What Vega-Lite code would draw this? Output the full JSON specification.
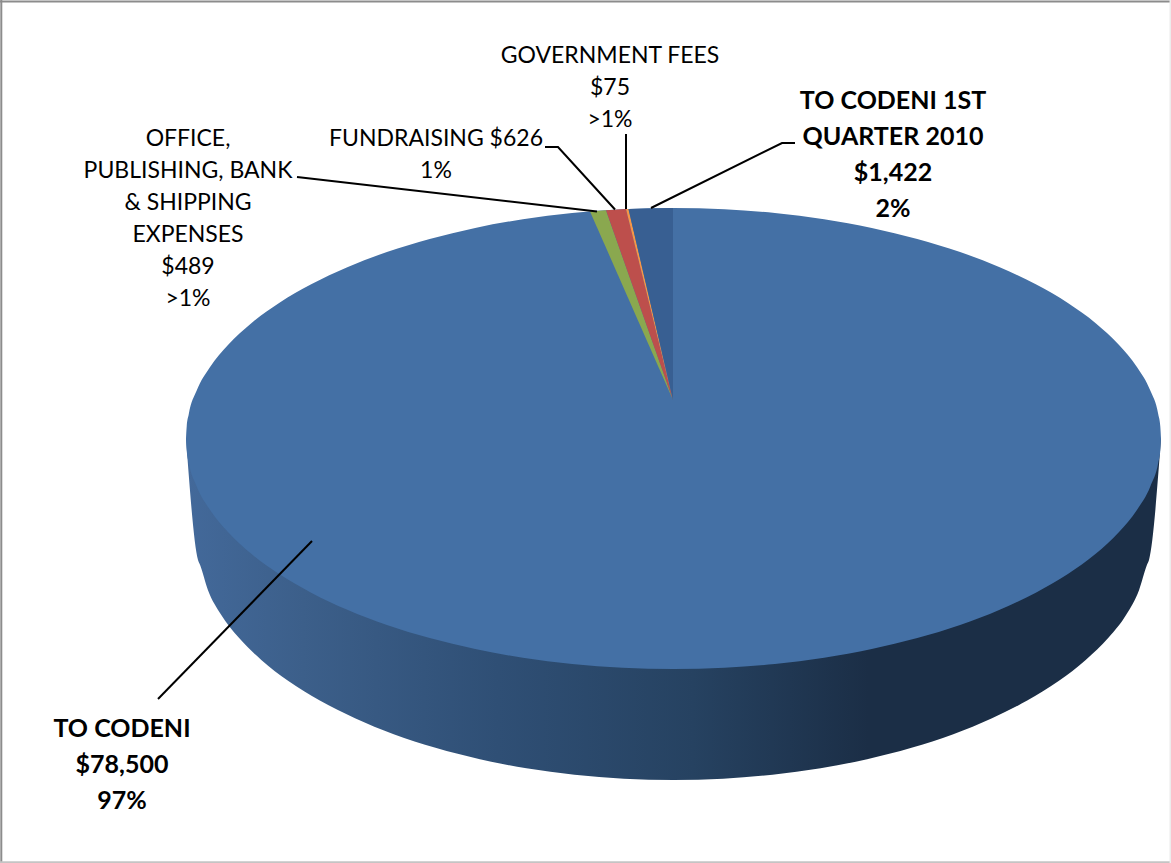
{
"$schema":"https://vega.github.io/schema/vega-lite/v6.json",
"autosize":{"type":"none"},
"width":1171,"height":863,"padding":0,
"background":"white",
"config":{"view":{"stroke":null}},
"resolve":{"scale":{"color":"independent"}},
"datasets":{
"frame":[
{"edge":"top","x":0,"y":1.6},{"edge":"top","x":1171,"y":1.6},
{"edge":"left","x":1.3,"y":0},{"edge":"left","x":1.3,"y":863},
{"edge":"bottom","x":0,"y":862.3},{"edge":"bottom","x":1171,"y":862.3},
{"edge":"right","x":1170.5,"y":0},{"edge":"right","x":1170.5,"y":863}
],
"top":[
{"x":186,"y":438.5,"y2":438.5},{"x":186.7,"y":426.4,"y2":450.6},{"x":188.7,"y":414.4,"y2":462.6},{"x":196.7,"y":390.6,"y2":486.4},{"x":209.9,"y":367.3,"y2":509.7},{"x":228.2,"y":344.8,"y2":532.2},{"x":251.3,"y":323.2,"y2":553.8},{"x":279.1,"y":303,"y2":574},{"x":311.2,"y":284.3,"y2":592.7},{"x":347.3,"y":267.2,"y2":609.8},{"x":386.9,"y":252,"y2":625},{"x":429.7,"y":238.9,"y2":638.1},{"x":475.2,"y":227.9,"y2":649.1},{"x":522.9,"y":219.3,"y2":657.7},{"x":572.1,"y":213,"y2":664},{"x":622.6,"y":209.3,"y2":667.7},{"x":673.5,"y":208,"y2":669},
{"x":724.4,"y":209.3,"y2":667.7},{"x":774.9,"y":213,"y2":664},{"x":824.1,"y":219.3,"y2":657.7},{"x":871.8,"y":227.9,"y2":649.1},{"x":917.3,"y":238.9,"y2":638.1},{"x":960.1,"y":252,"y2":625},{"x":999.7,"y":267.2,"y2":609.8},{"x":1035.8,"y":284.3,"y2":592.7},{"x":1067.9,"y":303,"y2":574},{"x":1095.7,"y":323.2,"y2":553.8},{"x":1118.8,"y":344.8,"y2":532.2},{"x":1137.1,"y":367.3,"y2":509.7},{"x":1150.3,"y":390.6,"y2":486.4},{"x":1158.3,"y":414.4,"y2":462.6},{"x":1160.3,"y":426.4,"y2":450.6},{"x":1161,"y":438.5,"y2":438.5}
],
"side":[
{"x":186,"y":438.5,"y2":438.5},{"x":198,"y":438.5,"y2":560},{"x":200.1,"y":438.5,"y2":565},{"x":207.9,"y":438.5,"y2":589.9},{"x":220.8,"y":438.5,"y2":614.2},{"x":238.7,"y":438.5,"y2":637.6},{"x":261.3,"y":438.5,"y2":660},{"x":288.4,"y":438.5,"y2":681.1},{"x":319.8,"y":438.5,"y2":700.6},{"x":355,"y":438.5,"y2":718.3},{"x":393.7,"y":438.5,"y2":734.2},{"x":435.5,"y":438.5,"y2":747.8},{"x":479.9,"y":438.5,"y2":759.2},{"x":526.4,"y":438.5,"y2":768.3},{"x":574.5,"y":438.5,"y2":774.7},{"x":623.8,"y":438.5,"y2":778.7},{"x":673.5,"y":438.5,"y2":780},
{"x":723.2,"y":438.5,"y2":778.7},{"x":772.5,"y":438.5,"y2":774.7},{"x":820.6,"y":438.5,"y2":768.3},{"x":867.1,"y":438.5,"y2":759.2},{"x":911.5,"y":438.5,"y2":747.8},{"x":953.3,"y":438.5,"y2":734.2},{"x":992,"y":438.5,"y2":718.3},{"x":1027.2,"y":438.5,"y2":700.6},{"x":1058.6,"y":438.5,"y2":681.1},{"x":1085.7,"y":438.5,"y2":660},{"x":1108.6,"y":438.5,"y2":637.6},{"x":1126.5,"y":438.5,"y2":614.2},{"x":1139.1,"y":438.5,"y2":589.9},{"x":1146.9,"y":438.5,"y2":565},{"x":1149,"y":438.5,"y2":560},{"x":1161,"y":438.5,"y2":438.5}
],
"slices":[
{"slice":"OFFICE, PUBLISHING, BANK & SHIPPING EXPENSES","x":590,"y":211.4,"y2":211.4},{"slice":"OFFICE, PUBLISHING, BANK & SHIPPING EXPENSES","x":606,"y":210.2,"y2":247.8},{"slice":"OFFICE, PUBLISHING, BANK & SHIPPING EXPENSES","x":673,"y":400,"y2":400},
{"slice":"FUNDRAISING","x":606,"y":210.2,"y2":210.2},{"slice":"FUNDRAISING","x":626,"y":209,"y2":266.9},{"slice":"FUNDRAISING","x":673,"y":400,"y2":400},
{"slice":"GOVERNMENT FEES","x":626,"y":209,"y2":209},{"slice":"GOVERNMENT FEES","x":628.5,"y":209,"y2":219.2},{"slice":"GOVERNMENT FEES","x":673,"y":400,"y2":400},
{"slice":"TO CODENI 1ST QUARTER 2010","x":628.5,"y":209,"y2":209},{"slice":"TO CODENI 1ST QUARTER 2010","x":673,"y":208,"y2":400}
],
"leaders":[
{"id":"office","n":1,"x":297,"y":177},{"id":"office","n":2,"x":597,"y":211.5},
{"id":"fund","n":1,"x":545,"y":147},{"id":"fund","n":2,"x":558,"y":147},{"id":"fund","n":3,"x":615,"y":209.5},
{"id":"gov","n":1,"x":626,"y":134},{"id":"gov","n":2,"x":626,"y":209},
{"id":"q1","n":1,"x":795,"y":143},{"id":"q1","n":2,"x":782,"y":143},{"id":"q1","n":3,"x":651,"y":208},
{"id":"codeni","n":1,"x":158,"y":699},{"id":"codeni","n":2,"x":312,"y":541}
],
"labels":[
{"t":"GOVERNMENT FEES","x":610,"y":56,"b":0},{"t":"$75","x":610,"y":88,"b":0},{"t":">1%","x":610,"y":120,"b":0},
{"t":"TO CODENI 1ST","x":893,"y":101,"b":1},{"t":"QUARTER 2010","x":893,"y":137,"b":1},{"t":"$1,422","x":893,"y":173,"b":1},{"t":"2%","x":893,"y":209,"b":1},
{"t":"OFFICE,","x":188,"y":139,"b":0},{"t":"PUBLISHING, BANK","x":188,"y":171,"b":0},{"t":"& SHIPPING","x":188,"y":203,"b":0},{"t":"EXPENSES","x":188,"y":235,"b":0},{"t":"$489","x":188,"y":267,"b":0},{"t":">1%","x":188,"y":299,"b":0},
{"t":"FUNDRAISING $626","x":436,"y":139,"b":0},{"t":"1%","x":436,"y":171,"b":0},
{"t":"TO CODENI","x":122,"y":729,"b":1},{"t":"$78,500","x":122,"y":765,"b":1},{"t":"97%","x":122,"y":801,"b":1}
]
},
"encoding":{
"x":{"field":"x","type":"quantitative","scale":{"domain":[0,1171],"nice":false,"zero":false},"axis":null},
"y":{"field":"y","type":"quantitative","scale":{"domain":[863,0],"nice":false,"zero":false},"axis":null}
},
"layer":[
{"data":{"name":"side"},"mark":{"type":"area","interpolate":"monotone","color":{"x1":0,"y1":0,"x2":1,"y2":0,"gradient":"linear","stops":[{"offset":0,"color":"#43699a"},{"offset":0.12,"color":"#3c5f8a"},{"offset":0.32,"color":"#2f4f75"},{"offset":0.52,"color":"#264261"},{"offset":0.7,"color":"#1b2e46"},{"offset":1,"color":"#1b2e46"}]}},"encoding":{"y2":{"field":"y2"}}},
{"data":{"name":"top"},"mark":{"type":"area","interpolate":"monotone","color":"#4470a5"},"encoding":{"y2":{"field":"y2"}}},
{"data":{"name":"slices"},"mark":{"type":"area"},"encoding":{"y2":{"field":"y2"},"color":{"field":"slice","type":"nominal","legend":null,"scale":{"domain":["OFFICE, PUBLISHING, BANK & SHIPPING EXPENSES","FUNDRAISING","GOVERNMENT FEES","TO CODENI 1ST QUARTER 2010"],"range":["#8aa84f","#bd4f4c","#f79646","#385f92"]}}}},
{"data":{"name":"leaders"},"mark":{"type":"line","color":"#000000","strokeWidth":2},"encoding":{"detail":{"field":"id"},"order":{"field":"n","type":"quantitative"}}},
{"data":{"name":"frame"},"mark":{"type":"line","strokeWidth":2},"encoding":{"color":{"field":"edge","type":"nominal","legend":null,"scale":{"domain":["top","left","bottom","right"],"range":["#8c8c8c","#8c8c8c","#c4c4c4","#ececec"]}},"order":{"field":"y","type":"quantitative"}}},
{"data":{"name":"labels"},"transform":[{"filter":"datum.b==0"}],"mark":{"type":"text","font":"Lato","fontSize":23,"align":"center","baseline":"middle","color":"#000000"},"encoding":{"text":{"field":"t"}}},
{"data":{"name":"labels"},"transform":[{"filter":"datum.b==1"}],"mark":{"type":"text","font":"Lato","fontSize":25,"fontWeight":"bold","align":"center","baseline":"middle","color":"#000000"},"encoding":{"text":{"field":"t"}}}
]
}
